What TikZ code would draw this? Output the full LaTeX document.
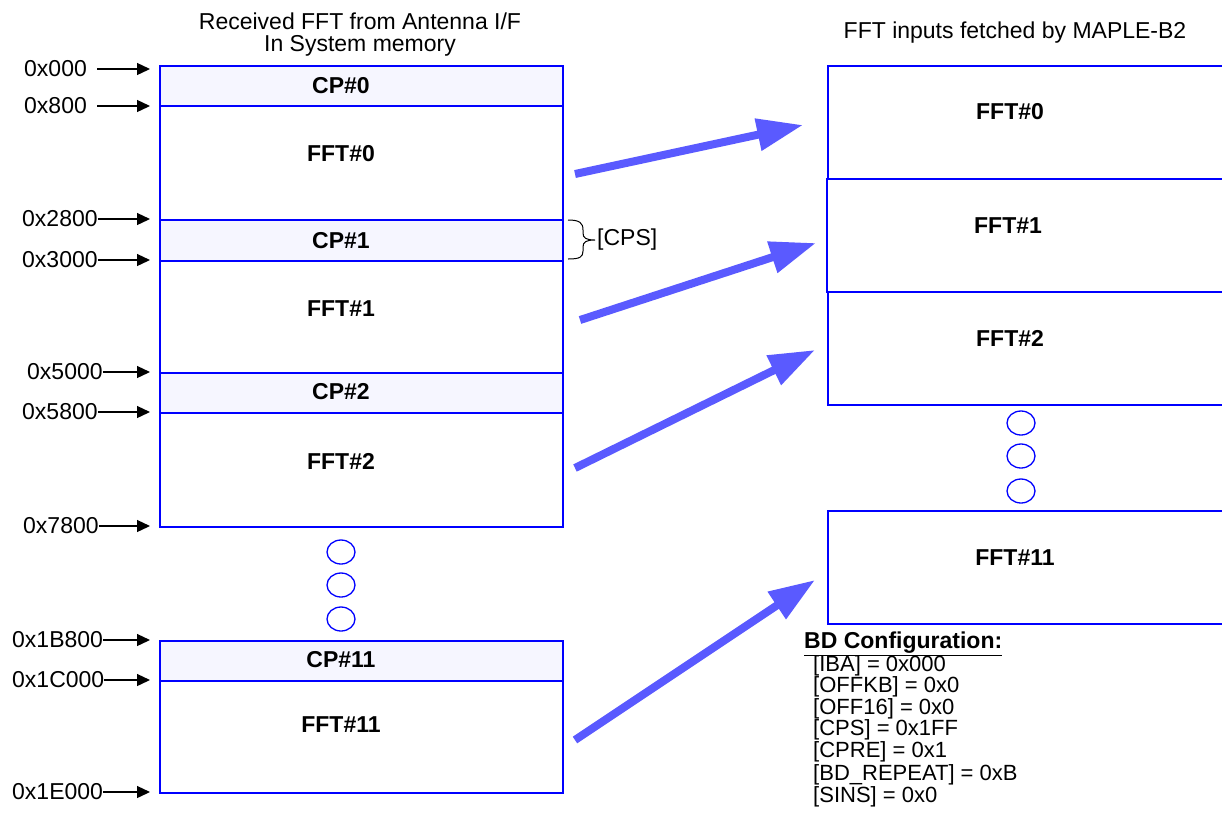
\documentclass[tikz,border=0pt]{standalone}
\usepackage{fontspec}
\setmainfont{Liberation Sans}
\usetikzlibrary{arrows.meta}
\definecolor{memblue}{RGB}{0,0,255}
\definecolor{cpfill}{RGB}{246,246,255}
\definecolor{bigarrow}{RGB}{90,90,255}
\begin{document}
\begin{tikzpicture}[x=1pt,y=-1pt,
  every node/.style={font=\fontsize{23}{22}\selectfont, inner sep=0pt},
  seg/.style={draw=memblue, line width=2pt, anchor=north west, minimum width=403pt, fill=white},
  cpseg/.style={seg, fill=cpfill, minimum height=40pt},
  rseg/.style={seg, minimum width=430pt, minimum height=113pt},
  lbl/.style={font=\fontsize{23}{22}\selectfont\bfseries},
  addr/.style={anchor=west},
  addrarrow/.style={draw=black, line width=1.3pt, -{Triangle[length=13pt,width=12pt]}},
  fetch/.style={draw=bigarrow, line width=8pt, -{Triangle[length=46pt,width=31pt]}},
  dots/.style={draw=memblue, line width=1.3pt},
  bdline/.style={anchor=west, text height=13pt, text depth=3pt, font=\fontsize{22}{22}\selectfont}
]
\useasboundingbox (0,0) rectangle (1222,831);

% titles
\node[align=center] (tl) at (360,35) {Received FFT from Antenna I/F\\In System memory};
\node (tr) at (1015,33) {FFT inputs fetched by MAPLE-B2};

% left memory
\node[cpseg] (cp0) at (159,65) {};
\node[seg, minimum height=114pt] (fft0) at (159,105) {};
\node[cpseg, minimum height=41pt] (cp1) at (159,219) {};
\node[seg, minimum height=112pt] (fft1) at (159,260) {};
\node[cpseg] (cp2) at (159,372) {};
\node[seg, minimum height=114pt] (fft2) at (159,412) {};
\node[cpseg] (cp11) at (159,640) {};
\node[seg, minimum height=112pt] (fft11) at (159,680) {};

\node[lbl] (tcp0) at (341,86) {CP\#0};
\node[lbl] (tfft0) at (341,154) {FFT\#0};
\node[lbl] (tcp1) at (341,241) {CP\#1};
\node[lbl] (tfft1) at (341,309) {FFT\#1};
\node[lbl] (tcp2) at (341,392) {CP\#2};
\node[lbl] (tfft2) at (341,461) {FFT\#2};
\node[lbl] (tcp11) at (341,660) {CP\#11};
\node[lbl] (tfft11) at (341,725) {FFT\#11};

% ellipses left
\draw[dots] (341,552) ellipse [x radius=14pt, y radius=12pt];
\draw[dots] (341,585) ellipse [x radius=14pt, y radius=12pt];
\draw[dots] (341,619) ellipse [x radius=14pt, y radius=12pt];

% address labels
\node[addr] (a0) at (24,69) {0x000};
\node[addr] (a1) at (24,106) {0x800};
\node[addr] (a2) at (22,219) {0x2800};
\node[addr] (a3) at (22,260) {0x3000};
\node[addr] (a4) at (27,372) {0x5000};
\node[addr] (a5) at (22,412) {0x5800};
\node[addr] (a6) at (23,526) {0x7800};
\node[addr] (a7) at (12,640) {0x1B800};
\node[addr] (a8) at (12,680) {0x1C000};
\node[addr] (a9) at (12,792) {0x1E000};
\coordinate (e0) at (150,69);
\coordinate (e1) at (150,106);
\coordinate (e2) at (150,219);
\coordinate (e3) at (150,260);
\coordinate (e4) at (150,372);
\coordinate (e5) at (150,412);
\coordinate (e6) at (150,526);
\coordinate (e7) at (150,640);
\coordinate (e8) at (150,680);
\coordinate (e9) at (150,792);
\draw[addrarrow] ([xshift=10pt]a0.east) -- (e0);
\draw[addrarrow] ([xshift=10pt]a1.east) -- (e1);
\draw[addrarrow] (a2.east) -- (e2);
\draw[addrarrow] (a3.east) -- (e3);
\draw[addrarrow] (a4.east) -- (e4);
\draw[addrarrow] (a5.east) -- (e5);
\draw[addrarrow] (a6.east) -- (e6);
\draw[addrarrow] (a7.east) -- (e7);
\draw[addrarrow] (a8.east) -- (e8);
\draw[addrarrow] (a9.east) -- (e9);

% CPS brace
\draw[line width=1pt] (568,220) .. controls (580,220) and (583,223) .. (583,230) -- (583,233)
  .. controls (583,238) and (586,240) .. (595,240)
  .. controls (586,240) and (583,242) .. (583,247) -- (583,251)
  .. controls (583,257) and (580,259) .. (568,259);
\node[anchor=west] (cps) at (597,240) {[CPS]};

% right boxes
\node[rseg] (r0) at (827,65) {};
\node[rseg] (r1) at (826,178) {};
\node[rseg] (r2) at (827,291) {};
\node[rseg] (r11) at (827,510) {};
\node[lbl] (tr0) at (1010,112) {FFT\#0};
\node[lbl] (tr1) at (1008,226) {FFT\#1};
\node[lbl] (tr2) at (1010,338) {FFT\#2};
\node[lbl] (tr11) at (1015,558) {FFT\#11};

\draw[dots] (1021,423) ellipse [x radius=14pt, y radius=12pt];
\draw[dots] (1021,456) ellipse [x radius=14pt, y radius=12pt];
\draw[dots] (1021,491) ellipse [x radius=14pt, y radius=12pt];

% fetch arrows
\coordinate (s1) at (575,174);
\coordinate (d1) at (803,125);
\coordinate (s2) at (580,320);
\coordinate (d2) at (816,243);
\coordinate (s3) at (575,468);
\coordinate (d3) at (815,350);
\coordinate (s4) at (575,740);
\coordinate (d4) at (815,580);
\draw[fetch] (s1) -- (d1);
\draw[fetch] (s2) -- (d2);
\draw[fetch] (s3) -- (d3);
\draw[fetch] (s4) -- (d4);

% BD configuration
\node[anchor=west] (bdh) at (804,644) {\bfseries\underline{BD Configuration:}};
\node[bdline] (bd1) at (813,666) {[IBA] = 0x000};
\node[bdline] (bd2) at (813,687.5) {[OFFKB] = 0x0};
\node[bdline] (bd3) at (813,709) {[OFF16] = 0x0};
\node[bdline] (bd4) at (813,730.5) {[CPS] = 0x1FF};
\node[bdline] (bd5) at (813,752.5) {[CPRE] = 0x1};
\node[bdline] (bd6) at (813,775) {[BD\_REPEAT] = 0xB};
\node[bdline] (bd7) at (813,797) {[SINS] = 0x0};
\end{tikzpicture}
\end{document}
